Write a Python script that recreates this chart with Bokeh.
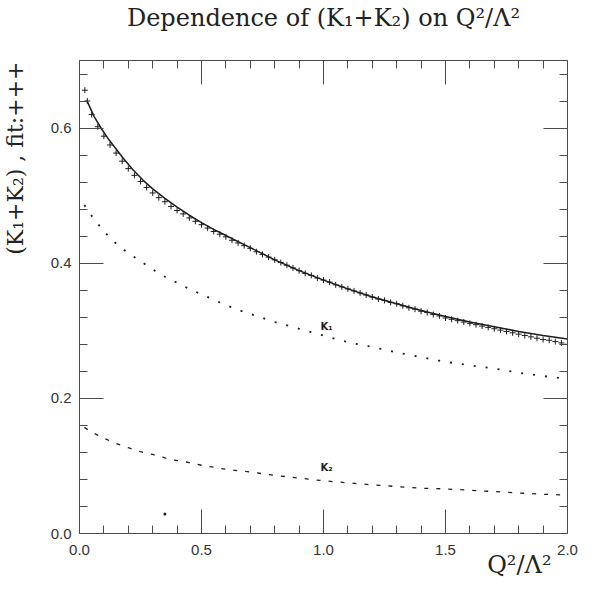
from bokeh.plotting import figure
from bokeh.models import Range1d, LinearAxis, FixedTicker, NumeralTickFormatter, Title
from bokeh.core.properties import value
from bokeh.embed import file_html
from bokeh.resources import INLINE

# ---- data ----
sum_x = [0.03, 0.06, 0.09, 0.12, 0.15, 0.18, 0.22, 0.26, 0.30, 0.35, 0.40, 0.45, 0.50, 0.55,
         0.60, 0.65, 0.70, 0.80, 0.90, 1.00, 1.10, 1.20, 1.30, 1.40, 1.50, 1.60, 1.70, 1.80,
         1.90, 2.00]
sum_y = [0.641, 0.617, 0.599, 0.583, 0.569, 0.555, 0.538, 0.523, 0.510, 0.496, 0.483, 0.471,
         0.460, 0.450, 0.441, 0.432, 0.423, 0.405, 0.389, 0.375, 0.362, 0.350, 0.340, 0.330,
         0.321, 0.313, 0.306, 0.299, 0.293, 0.288]

k1_x = [0.02, 0.05, 0.10, 0.15, 0.20, 0.25, 0.30, 0.35, 0.40, 0.45, 0.50, 0.55, 0.60, 0.65,
        0.70, 0.75, 0.80, 0.85, 0.90, 0.95, 1.00, 1.10, 1.20, 1.30, 1.40, 1.50, 1.60, 1.70,
        1.80, 1.90, 2.00]
k1_y = [0.486, 0.470, 0.447, 0.429, 0.415, 0.403, 0.391, 0.380, 0.371, 0.362, 0.354, 0.346,
        0.338, 0.331, 0.325, 0.319, 0.313, 0.308, 0.303, 0.298, 0.293, 0.283, 0.276, 0.268,
        0.261, 0.254, 0.249, 0.244, 0.238, 0.233, 0.229]

k2_x = [0.02, 0.05, 0.10, 0.15, 0.20, 0.25, 0.30, 0.35, 0.40, 0.45, 0.50, 0.60, 0.70, 0.80,
        0.90, 1.00, 1.10, 1.20, 1.30, 1.40, 1.50, 1.60, 1.70, 1.80, 1.90, 2.00]
k2_y = [0.157, 0.150, 0.141, 0.133, 0.127, 0.121, 0.117, 0.112, 0.108, 0.105, 0.101, 0.095,
        0.091, 0.086, 0.082, 0.078, 0.075, 0.072, 0.0695, 0.067, 0.066, 0.064, 0.062, 0.060,
        0.058, 0.057]

fit_x = [0.022, 0.032, 0.050, 0.075, 0.100, 0.125, 0.150, 0.175, 0.200, 0.225, 0.250, 0.275,
         0.300, 0.325, 0.350, 0.375, 0.400, 0.425, 0.450, 0.475, 0.500, 0.525, 0.550, 0.575,
         0.600, 0.625, 0.650, 0.675, 0.700, 0.725, 0.750, 0.775, 0.800, 0.825, 0.850, 0.875,
         0.900, 0.925, 0.950, 0.975, 1.000, 1.025, 1.050, 1.075, 1.100, 1.125, 1.150, 1.175,
         1.200, 1.225, 1.250, 1.275, 1.300, 1.325, 1.350, 1.375, 1.400, 1.425, 1.450, 1.475,
         1.500, 1.525, 1.550, 1.575, 1.600, 1.625, 1.650, 1.675, 1.700, 1.725, 1.750, 1.775,
         1.800, 1.825, 1.850, 1.875, 1.900, 1.925, 1.950, 1.975, 2.000]
fit_y = [0.656, 0.640, 0.620, 0.602, 0.588, 0.575, 0.563, 0.551, 0.540, 0.530, 0.521, 0.512,
         0.504, 0.497, 0.491, 0.484, 0.478, 0.473, 0.467, 0.462, 0.457, 0.452, 0.447, 0.443,
         0.439, 0.434, 0.430, 0.426, 0.422, 0.417, 0.413, 0.409, 0.405, 0.401, 0.397, 0.393,
         0.389, 0.385, 0.382, 0.378, 0.375, 0.372, 0.368, 0.365, 0.362, 0.359, 0.356, 0.353,
         0.350, 0.347, 0.345, 0.342, 0.340, 0.337, 0.334, 0.332, 0.329, 0.327, 0.324, 0.322,
         0.319, 0.317, 0.315, 0.313, 0.311, 0.309, 0.307, 0.305, 0.303, 0.301, 0.299, 0.297,
         0.295, 0.293, 0.291, 0.289, 0.287, 0.286, 0.284, 0.282, 0.280]

speck_x = [0.35]
speck_y = [0.029]

curve_label_x = [0.988, 0.988]
curve_label_y = [0.307, 0.097]
curve_label_text = ["K\u2081", "K\u2082"]

x_major = [0.0, 0.5, 1.0, 1.5, 2.0]
x_minor = [0.1, 0.2, 0.3, 0.4, 0.6, 0.7, 0.8, 0.9, 1.1, 1.2, 1.3, 1.4, 1.6, 1.7, 1.8, 1.9]
y_major = [0.0, 0.2, 0.4, 0.6]
y_minor = [0.04, 0.08, 0.12, 0.16, 0.24, 0.28, 0.32, 0.36, 0.44, 0.48, 0.52, 0.56, 0.64, 0.68]

title_text = "Dependence of (K\u2081+K\u2082) on Q\u00b2/\u039b\u00b2"
ylabel_text = "(K\u2081+K\u2082) , fit:+++"
xlabel_text = "Q\u00b2/\u039b\u00b2"

INK = "#1e1e1e"
AX = "#4a4a4a"

p = figure(frame_width=488, frame_height=473,
           min_border_left=78, min_border_right=18, min_border_top=60, min_border_bottom=46,
           x_range=Range1d(0, 2.0), y_range=Range1d(0, 0.7),
           output_backend="svg", toolbar_location=None, background_fill_color="white",
           border_fill_color="white")
p.outline_line_color = None
p.xgrid.visible = False
p.ygrid.visible = False

xt = FixedTicker(ticks=x_major, minor_ticks=x_minor)
yt = FixedTicker(ticks=y_major, minor_ticks=y_minor)


def style_axis(ax, show_labels):
    ax.axis_line_color = AX
    ax.axis_line_width = 1
    ax.major_tick_line_color = AX
    ax.minor_tick_line_color = AX
    ax.major_tick_in = 24
    ax.major_tick_out = 0
    ax.minor_tick_in = 8
    ax.minor_tick_out = 0
    if show_labels:
        ax.major_label_text_font = "Liberation Sans"
        ax.major_label_text_font_size = "15px"
        ax.major_label_text_color = "#333333"
        ax.formatter = NumeralTickFormatter(format="0.0")
    else:
        ax.major_label_text_color = None
        ax.major_label_standoff = 0


def spacer_axis(ticker, gap):
    # an invisible axis used only to reserve a gap between frame and a title
    ax = LinearAxis(ticker=ticker)
    ax.axis_line_color = None
    ax.major_tick_line_color = None
    ax.minor_tick_line_color = None
    ax.major_label_text_color = None
    ax.major_label_standoff = 0
    ax.major_tick_in = 0
    ax.minor_tick_in = 0
    ax.major_tick_out = gap
    ax.minor_tick_out = 0
    return ax


xa = p.xaxis[0]
xa.ticker = xt
style_axis(xa, True)
xa.major_label_standoff = 11
ya = p.yaxis[0]
ya.ticker = yt
style_axis(ya, True)
ya.major_label_standoff = 8

top_ax = LinearAxis(ticker=xt)
style_axis(top_ax, False)
p.add_layout(top_ax, "above")
p.add_layout(spacer_axis(xt, 29), "above")
right_ax = LinearAxis(ticker=yt)
style_axis(right_ax, False)
p.add_layout(right_ax, "right")
p.add_layout(spacer_axis(yt, 20), "left")

p.title.text = title_text
p.title.text_font = "DejaVu Serif"
p.title.text_font_size = "24px"
p.title.text_font_style = "normal"
p.title.text_color = "#222222"
p.title.align = "center"
p.title.offset = -11
p.title.standoff = 0

# axis titles (placed off-centre like the reference)
ytitle = Title(text=ylabel_text, align="right", text_font="DejaVu Serif",
               text_font_size="22px", text_font_style="normal", text_color="#222222",
               standoff=0, offset=1)
p.add_layout(ytitle, "left")
xtitle = Title(text=xlabel_text, align="right", text_font="DejaVu Serif",
               text_font_size="24px", text_font_style="normal", text_color="#222222",
               standoff=-18, offset=16)
p.add_layout(xtitle, "below")

# curves
p.line(sum_x, sum_y, line_color=INK, line_width=1.5)
p.line(k1_x, k1_y, line_color=INK, line_width=1.8, line_dash="2 10")
p.line(k2_x, k2_y, line_color=INK, line_width=1.3, line_dash="4 8")
p.scatter(fit_x, fit_y, marker="cross", size=6, line_color=INK, line_width=1)
p.scatter(speck_x, speck_y, marker="circle", size=3, fill_color=INK, line_color=None)

p.text(x=curve_label_x, y=curve_label_y, text=curve_label_text,
       text_font=value("DejaVu Sans"), text_font_size="10px", text_font_style="bold",
       text_color=INK, text_align="left", text_baseline="middle")

open("out.html", "w").write(file_html(p, INLINE))
